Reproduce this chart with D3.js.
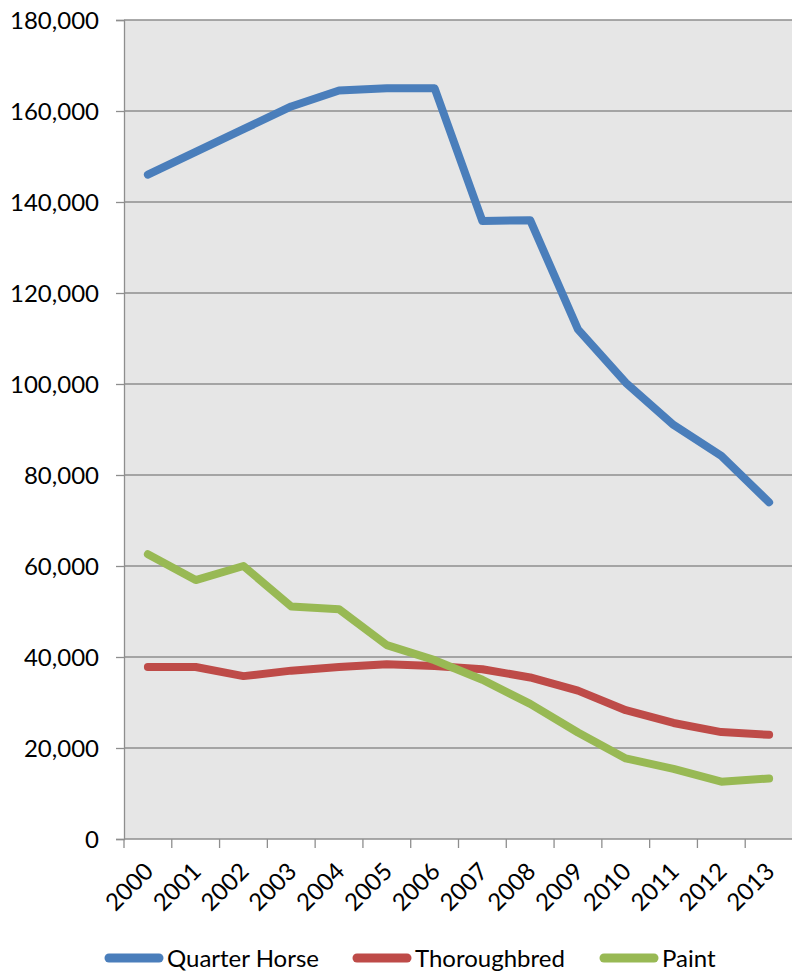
<!DOCTYPE html>
<html>
<head>
<meta charset="utf-8">
<script src="https://cdn.jsdelivr.net/npm/d3@7"></script>
<style>
  body { margin: 0; background: #fff; }
  text { font-family: Lato, "Open Sans", sans-serif; fill: #000; }
</style>
</head>
<body>
<div id="chart"></div>
<script>
// data
const years = ["2000", "2001", "2002", "2003", "2004", "2005", "2006",
               "2007", "2008", "2009", "2010", "2011", "2012", "2013"];
const quarterHorse = [146000, 151000, 156000, 161000, 164500, 165000, 165000,
                      135800, 136000, 112000, 100300, 91000, 84200, 74000];
const thoroughbred = [37800, 37800, 35800, 37000, 37800, 38400, 38000,
                      37300, 35500, 32600, 28300, 25500, 23500, 22900];
const paint = [62600, 56900, 60000, 51100, 50500, 42600, 39300,
               35000, 29700, 23400, 17700, 15400, 12600, 13300];
const yTicks = [0, 20000, 40000, 60000, 80000, 100000, 120000, 140000, 160000, 180000];
const seriesNames = ["Quarter Horse", "Thoroughbred", "Paint"];
const seriesColors = ["#4a7ebb", "#be4b48", "#98b954"];

function createLineChart() {
    const W = 792, H = 971;
    const margin = { top: 20, right: -1, bottom: 132, left: 124 };
    const width = W - margin.left - margin.right;
    const height = H - margin.top - margin.bottom;

    const svg = d3.select("#chart")
        .append("svg")
        .attr("width", W)
        .attr("height", H);

    const g = svg.append("g")
        .attr("transform", `translate(${margin.left},${margin.top})`);

    const xScale = d3.scaleBand()
        .domain(years)
        .range([0, width]);

    const yScale = d3.scaleLinear()
        .domain([0, 180000])
        .range([height, 0]);

    // plot background
    g.append("rect")
        .attr("width", width)
        .attr("height", height)
        .attr("fill", "#e6e6e6");

    // gridlines
    g.selectAll(".grid")
        .data(yTicks.slice(1))
        .enter()
        .append("line")
        .attr("x1", 0)
        .attr("x2", width)
        .attr("y1", d => yScale(d))
        .attr("y2", d => yScale(d))
        .attr("stroke", "#8e8e8e")
        .attr("stroke-width", 1.3);

    // y axis
    const yAxis = g.append("g")
        .call(d3.axisLeft(yScale)
            .tickValues(yTicks)
            .tickSize(8)
            .tickPadding(17)
            .tickFormat(d3.format(",")));
    yAxis.select(".domain").attr("stroke", "#8e8e8e").attr("stroke-width", 1.3);
    yAxis.selectAll(".tick line").attr("stroke", "#8e8e8e").attr("stroke-width", 1.3);
    yAxis.selectAll("text")
        .style("font-size", "24px")
        .attr("dy", "0.36em");

    // x axis: ticks on band boundaries
    const xAxisG = g.append("g")
        .attr("transform", `translate(0,${height})`);
    xAxisG.append("line")
        .attr("x1", 0)
        .attr("x2", width)
        .attr("stroke", "#8e8e8e")
        .attr("stroke-width", 1.3);
    xAxisG.selectAll(".xtick")
        .data(years)
        .enter()
        .append("line")
        .attr("x1", d => xScale(d))
        .attr("x2", d => xScale(d))
        .attr("y1", 0)
        .attr("y2", 9)
        .attr("stroke", "#8e8e8e")
        .attr("stroke-width", 1.3);
    xAxisG.selectAll(".xlabel")
        .data(years)
        .enter()
        .append("text")
        .attr("transform", d => `translate(${xScale(d) + xScale.bandwidth() / 2 + 1},${28}) rotate(-45)`)
        .style("text-anchor", "end")
        .style("font-size", "24px")
        .attr("dy", "0.35em")
        .text(d => d);

    // lines
    const allSeries = [quarterHorse, thoroughbred, paint];
    const line = d3.line()
        .x((d, i) => xScale(years[i]) + xScale.bandwidth() / 2)
        .y(d => yScale(d));

    g.selectAll(".series")
        .data(allSeries)
        .enter()
        .append("path")
        .attr("d", d => line(d))
        .attr("fill", "none")
        .attr("stroke", (d, i) => seriesColors[i])
        .attr("stroke-width", 8)
        .attr("stroke-linecap", "round")
        .attr("stroke-linejoin", "round");

    // legend
    const legendX = [105, 353, 600];
    const legend = svg.append("g")
        .attr("transform", `translate(0, 958)`);
    seriesNames.forEach((name, i) => {
        legend.append("line")
            .attr("x1", legendX[i] + 4)
            .attr("x2", legendX[i] + 54)
            .attr("stroke", seriesColors[i])
            .attr("stroke-width", 9)
            .attr("stroke-linecap", "round");
        legend.append("text")
            .attr("x", legendX[i] + 62)
            .attr("dy", "0.36em")
            .style("font-size", "24px")
            .text(name);
    });
}

createLineChart();
</script>
</body>
</html>
